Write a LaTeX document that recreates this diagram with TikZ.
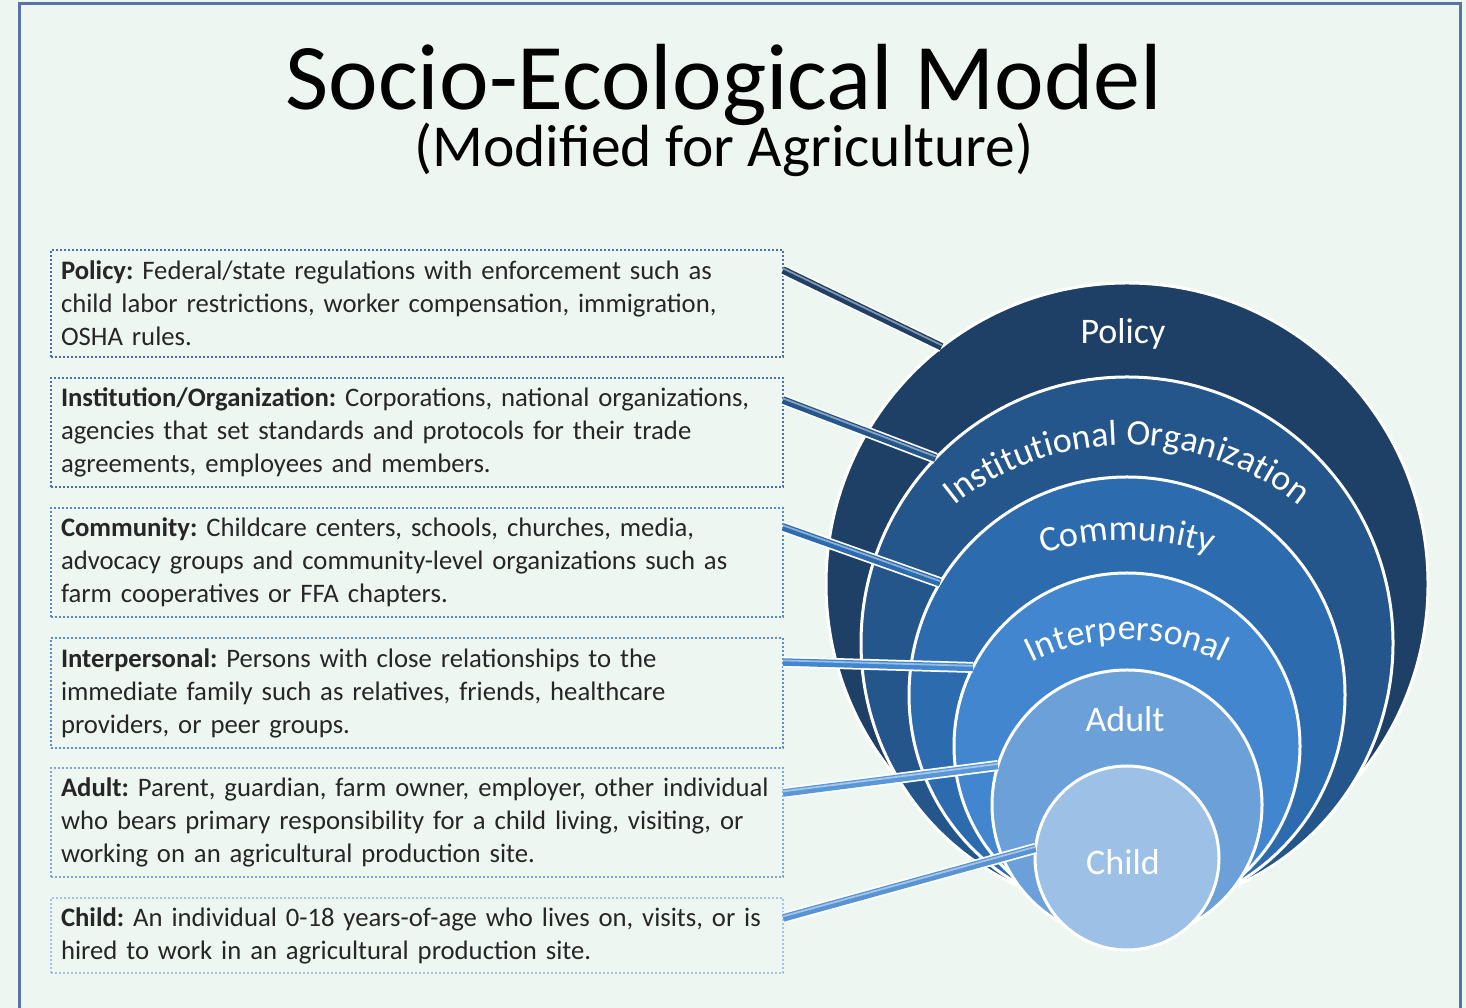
\documentclass[tikz,border=0pt]{standalone}
\usepackage{fontspec}
\setmainfont{Carlito}
\usetikzlibrary{decorations.text}
\frenchspacing
\definecolor{bg}{HTML}{EEF6F2}
\definecolor{frm}{HTML}{5A72A6}
\definecolor{txt}{HTML}{262626}
\definecolor{cPol}{HTML}{1E3F66}
\definecolor{cIns}{HTML}{24558B}
\definecolor{cCom}{HTML}{2D6BAF}
\definecolor{cInt}{HTML}{4186CE}
\definecolor{cAdu}{HTML}{6BA0D8}
\definecolor{cChi}{HTML}{9CC0E6}
\definecolor{kAdu}{HTML}{5A97D6}
\definecolor{kChi}{HTML}{5893D3}
\definecolor{bd1}{HTML}{4C6EA8}
\definecolor{bd2}{HTML}{4C70AE}
\definecolor{bd3}{HTML}{5A88CC}
\definecolor{bd4}{HTML}{5A8ED6}
\definecolor{bd5}{HTML}{80A7DC}
\definecolor{bd6}{HTML}{A4C2E8}
\newcommand\lblfont{\fontsize{36}{36}\selectfont}
\tikzset{
  infobox/.style={draw=#1, dash pattern=on 2pt off 2pt, line width=1.8pt, anchor=north west,
    minimum width=731pt, inner xsep=10pt, outer sep=0pt, text width=712pt, align=left,
    font=\fontsize{26.7}{33}\selectfont, text=txt},
  ring/.style={circle, fill=#1, draw=white, line width=3pt, inner sep=0pt, outer sep=0pt},
  conn/.style={draw=#1, line width=7.5pt, preaction={draw=white, line width=11pt},
    postaction={draw=#1!55!white, line width=1.8pt, transform canvas={yshift=1.6pt}}},
  lbl/.style={text=white, font=\lblfont, anchor=base, inner sep=0pt},
  frame/.style={draw=frm, line width=3pt}
}
\begin{document}
\begin{tikzpicture}[x=1pt,y=1pt]
\useasboundingbox (0,0) rectangle (1466,1008);
\fill[bg] (0,0) rectangle (1466,1008);
\draw[frame] (19,-5) -- (19,1004) -- (1460,1004) -- (1460,-5);

% title
\node[anchor=base, font=\fontsize{94}{94}\selectfont, inner sep=0pt] (title) at (724,898) {Socio-Ecological Model};
\node[anchor=base, font=\fontsize{59.5}{60}\selectfont, inner sep=0pt] (subtitle) at (724,841) {(Modified for Agriculture)};

% description boxes
\node[infobox=bd1, minimum height=107pt] (b1) at (51,758) {\textbf{Policy:} Federal/state regulations with enforcement such as\\child labor restrictions, worker compensation, immigration,\\OSHA rules.};
\node[infobox=bd2, minimum height=109pt] (b2) at (51,630) {\textbf{Institution/Organization:} Corporations, national organizations,\\agencies that set standards and protocols for their trade\\agreements, employees and members.};
\node[infobox=bd3, minimum height=109pt] (b3) at (51,500) {\textbf{Community:} Childcare centers, schools, churches, media,\\advocacy groups and community-level organizations such as\\farm cooperatives or FFA chapters.};
\node[infobox=bd4, minimum height=110pt] (b4) at (51,370) {\textbf{Interpersonal:} Persons with close relationships to the\\immediate family such as relatives, friends, healthcare\\providers, or peer groups.};
\node[infobox=bd5, minimum height=109pt] (b5) at (51,240) {\textbf{Adult:} Parent, guardian, farm owner, employer, other individual\\who bears primary responsibility for a child living, visiting, or\\working on an agricultural production site.};
\node[infobox=bd6, minimum height=75pt] (b6) at (51,110) {\textbf{Child:} An individual 0-18 years-of-age who lives on, visits, or is\\hired to work in an agricultural production site.};

% nested circles
\node[ring=cPol, minimum size=602pt] (pol) at (1127,424) {};
\node[ring=cIns, minimum size=532pt] (ins) at (1127,365) {};
\node[ring=cCom, minimum size=436pt] (com) at (1127,313) {};
\node[ring=cInt, minimum size=346pt] (int) at (1127,262) {};
\node[ring=cAdu, minimum size=270pt] (adu) at (1127,203) {};
\node[ring=cChi, minimum size=184pt] (chi) at (1127,150) {};

% connectors
\draw[conn=cPol] ([yshift=-20pt]b1.north east) -- (pol.128.4);
\draw[conn=cIns] ([yshift=-22pt]b2.north east) -- (ins.136.7);
\draw[conn=cCom] ([yshift=-19pt]b3.north east) -- (com.149.5);
\draw[conn=cInt] ([yshift=-24pt]b4.north east) -- (int.153.7);
\draw[conn=kAdu] ([yshift=-25pt]b5.north east) -- (adu.163.3);
\draw[conn=kChi] ([yshift=-20pt]b6.north east) -- (chi.174);

% straight labels
\node[lbl] (polL) at (1123,664) {Policy};
\node[lbl] (aduL) at (1125,276) {Adult};
\node[lbl] (chiL) at (1123,133) {Child};

% curved labels
\path[decorate, decoration={text along path, text align=center, text color=white, text={|\lblfont|Institutional Organization}}]
  (1127,288) ++(135:275) arc[start angle=135, end angle=45, radius=275];
\path[decorate, decoration={text along path, text align=center, text color=white, text={|\lblfont|Community}}]
  (1127,208) ++(125:260) arc[start angle=125, end angle=55, radius=260];
\path[decorate, decoration={text along path, text align=center, text color=white, text={|\lblfont|Interpersonal}}]
  (1127,156) ++(140:212) arc[start angle=140, end angle=40, radius=212];
\end{tikzpicture}
\end{document}
